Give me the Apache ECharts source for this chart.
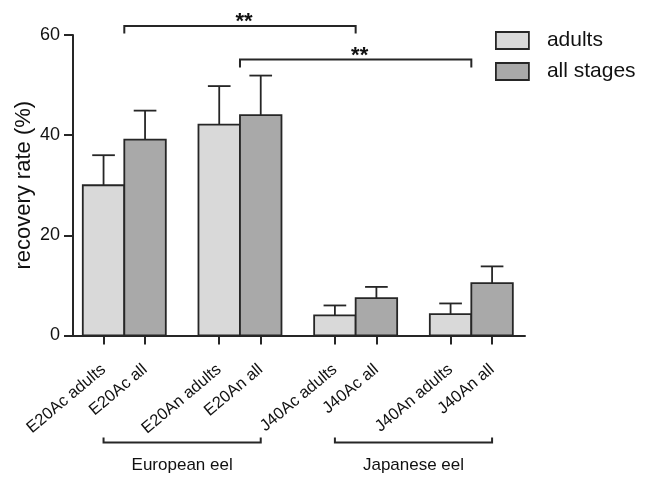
<!DOCTYPE html>
<html>
<head>
<meta charset="utf-8">
<script src="https://cdn.jsdelivr.net/npm/echarts@6/dist/echarts.min.js"></script>
<style>html,body{margin:0;padding:0;background:#fff}#c{width:648px;height:477px}</style>
</head>
<body>
<div id="c"></div>
<script>
// ---- data ----
var groups = ['E20Ac', 'E20An', 'J40Ac', 'J40An'];
var tickLabels = ['E20Ac adults', 'E20Ac all', 'E20An adults', 'E20An all', 'J40Ac adults', 'J40Ac all', 'J40An adults', 'J40An all'];
var adults = [30.0, 42.1, 4.0, 4.25];
var adultsErr = [6.0, 7.7, 2.0, 2.15];
var allStages = [39.1, 44.0, 7.45, 10.45];
var allStagesErr = [5.8, 7.9, 2.25, 3.35];
var yTicks = [0, 20, 40, 60];
var sigFrom = [1, 2];
var sigTo = [3, 4];
var sigY = [61.8, 55.1];
var sigDrop = [1.5, 1.6];
var sigText = ['**', '**'];
var speciesNames = ['European eel', 'Japanese eel'];
var speciesFrom = [1, 3];
var speciesTo = [2, 4];

// ---- layout ----
var BW = 0.3588; // bar width in group units
var INK = '#262626';
var tickPos = [];
groups.forEach(function (g, i) { tickPos.push(i + 1 - BW / 2, i + 1 + BW / 2); });

function barRender(side, errs) {
  return function (params, api) {
    var g = api.value(0), v = api.value(1), e = errs[params.dataIndex];
    var x0 = side < 0 ? g - BW : g;
    var p0 = api.coord([x0, v]);
    var p1 = api.coord([x0 + BW, 0]);
    var pe = api.coord([x0 + BW / 2, v + e]);
    var w = p1[0] - p0[0];
    var half = w * 0.273;
    return {
      type: 'group',
      children: [
        { type: 'line', shape: { x1: pe[0], y1: pe[1], x2: pe[0], y2: p0[1] }, style: { stroke: INK, lineWidth: 1.8 } },
        { type: 'line', shape: { x1: pe[0] - half, y1: pe[1], x2: pe[0] + half, y2: pe[1] }, style: { stroke: INK, lineWidth: 1.8 } },
        { type: 'rect', shape: { x: p0[0], y: p0[1], width: w, height: p1[1] - p0[1] }, style: { fill: api.visual('color'), stroke: INK, lineWidth: 1.8 } }
      ]
    };
  };
}

var sigData = sigFrom.map(function (f, i) { return [f, sigTo[i], sigY[i], sigDrop[i]]; });
var speciesData = speciesFrom.map(function (f, i) { return [f - BW / 2, speciesTo[i] + BW / 2]; });

var chart = echarts.init(document.getElementById('c'), null, { renderer: 'canvas' });
chart.setOption({
  animation: false,
  backgroundColor: '#fff',
  textStyle: { fontFamily: 'Liberation Sans, Arial, sans-serif' },
  grid: { left: 73, top: 35, width: 452, height: 300.5, containLabel: false, outerBoundsMode: 'none' },
  legend: {
    data: ['adults', 'all stages'],
    orient: 'vertical',
    left: 495, top: 30, padding: 0,
    itemWidth: 33, itemHeight: 17, itemGap: 10,
    icon: 'rect',
    itemStyle: { borderColor: INK, borderWidth: 1.8 },
    textStyle: { fontSize: 21, color: '#111', padding: [0, 0, 0, 13] }
  },
  xAxis: {
    type: 'value', min: 0.5565, max: 4.464,
    splitLine: { show: false },
    axisLine: { show: true, onZero: false, lineStyle: { color: INK, width: 2 } },
    axisTick: { show: true, customValues: tickPos, length: 9, lineStyle: { color: INK, width: 2 } },
    axisLabel: {
      customValues: tickPos, rotate: 40, margin: 32, fontSize: 16.5, color: '#111',
      formatter: function (val) {
        for (var i = 0; i < tickPos.length; i++) if (Math.abs(tickPos[i] - val) < 1e-6) return tickLabels[i];
        return '';
      }
    }
  },
  yAxis: {
    type: 'value', min: yTicks[0], max: yTicks[yTicks.length - 1], interval: yTicks[1] - yTicks[0],
    name: 'recovery rate (%)', nameLocation: 'middle', nameGap: 38, nameMoveOverlap: false,
    nameTextStyle: { fontSize: 22, color: '#111' },
    splitLine: { show: false },
    axisLine: { show: true, lineStyle: { color: INK, width: 2 } },
    axisTick: { show: true, length: 9, lineStyle: { color: INK, width: 2 } },
    axisLabel: { fontSize: 18, margin: 13, color: '#111' }
  },
  series: [
    {
      name: 'adults', type: 'custom', itemStyle: { color: '#d9d9d9' },
      renderItem: barRender(-1, adultsErr),
      data: adults.map(function (v, i) { return [i + 1, v]; }), clip: false
    },
    {
      name: 'all stages', type: 'custom', itemStyle: { color: '#a9a9a9' },
      renderItem: barRender(1, allStagesErr),
      data: allStages.map(function (v, i) { return [i + 1, v]; }), clip: false
    },
    {
      name: 'sig', type: 'custom', silent: true, clip: false,
      renderItem: function (params, api) {
        var i = params.dataIndex;
        var a = api.coord([api.value(0), api.value(2)]);
        var b = api.coord([api.value(1), api.value(2)]);
        var d = api.coord([api.value(0), api.value(2) - api.value(3)]);
        return {
          type: 'group', children: [
            { type: 'polyline', shape: { points: [[a[0], d[1]], a, b, [b[0], d[1]]] }, style: { stroke: INK, lineWidth: 2, fill: null } },
            { type: 'text', x: (a[0] + b[0]) / 2 + 4, y: a[1] - 4, style: { text: sigText[i], font: 'bold 22px Liberation Sans, Arial', fill: '#111', align: 'center', verticalAlign: 'middle' } }
          ]
        };
      },
      data: sigData
    },
    {
      name: 'species', type: 'custom', silent: true, clip: false,
      renderItem: function (params, api) {
        var i = params.dataIndex;
        var a = api.coord([api.value(0), 0]);
        var b = api.coord([api.value(1), 0]);
        var y = a[1] + 107;
        return {
          type: 'group', children: [
            { type: 'polyline', shape: { points: [[a[0], y - 5], [a[0], y], [b[0], y], [b[0], y - 5]] }, style: { stroke: INK, lineWidth: 2, fill: null } },
            { type: 'text', x: (a[0] + b[0]) / 2, y: y + 14, style: { text: speciesNames[i], font: '17px Liberation Sans, Arial', fill: '#111', align: 'center', verticalAlign: 'top' } }
          ]
        };
      },
      data: speciesData
    }
  ]
});
</script>
</body>
</html>
